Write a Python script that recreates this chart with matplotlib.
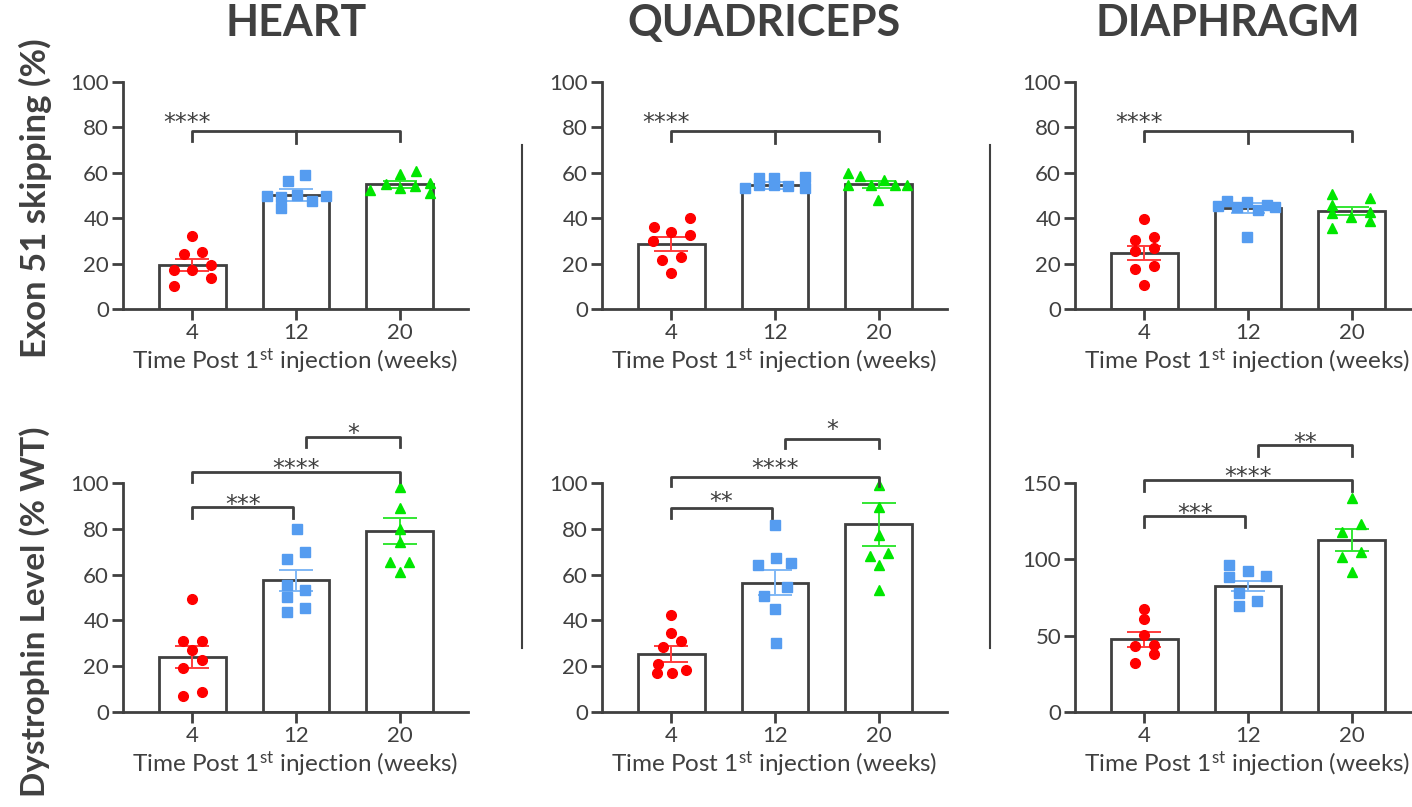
import matplotlib.pyplot as plt
import numpy as np

plt.rcParams['font.family'] = ['Lato', 'DejaVu Sans']
plt.rcParams['mathtext.fontset'] = 'custom'
plt.rcParams['mathtext.rm'] = 'Lato'
plt.rcParams['mathtext.it'] = 'Lato:italic'
plt.rcParams['mathtext.bf'] = 'Lato:bold'

text_color = '#404040'
line_color = '#404040'

weeks = ['4', '12', '20']
tissues = ['HEART', 'QUADRICEPS', 'DIAPHRAGM']
xlabel = r'Time Post 1$^{\mathrm{st}}$ injection (weeks)'

# Exon 51 skipping (%) - individual animals, bar means and SEM
exon_heart_4 = [32.0, 24.3, 25.1, 19.6, 17.4, 17.4, 13.6, 10.0]
exon_heart_12 = [59.2, 56.6, 50.0, 49.3, 50.3, 49.7, 47.7, 44.7]
exon_heart_20 = [59.4, 60.7, 55.0, 55.7, 52.3, 53.5, 54.1, 50.9]
exon_heart_mean = [19.4, 50.1, 55.0]
exon_heart_sem = [2.6, 2.6, 1.5]

exon_quad_4 = [40.0, 36.2, 33.9, 32.7, 30.1, 21.8, 23.0, 16.0]
exon_quad_12 = [53.5, 57.5, 54.5, 57.5, 54.5, 54.3, 58.2, 53.1]
exon_quad_20 = [59.7, 58.5, 54.5, 54.8, 56.7, 54.5, 54.8, 48.2]
exon_quad_mean = [28.7, 54.5, 55.0]
exon_quad_sem = [3.0, 1.6, 1.5]

exon_diaph_4 = [39.6, 30.6, 31.5, 25.7, 26.7, 17.6, 18.9, 10.6]
exon_diaph_12 = [47.7, 45.3, 47.2, 45.0, 43.8, 45.7, 45.0, 31.8]
exon_diaph_20 = [50.6, 49.0, 46.0, 42.1, 40.6, 42.8, 38.9, 35.9]
exon_diaph_mean = [24.6, 44.3, 43.3]
exon_diaph_sem = [3.2, 2.2, 1.7]

# Dystrophin level (% WT)
dys_heart_4 = [49.5, 31.2, 31.2, 27.0, 22.8, 19.1, 8.8, 6.9]
dys_heart_12 = [79.7, 66.9, 69.9, 55.3, 53.3, 50.4, 43.8, 45.4]
dys_heart_20 = [98.2, 89.3, 80.1, 74.2, 65.3, 65.7, 61.0]
dys_heart_mean = [23.9, 57.5, 79.0]
dys_heart_sem = [4.9, 4.7, 5.8]

dys_quad_4 = [42.2, 34.7, 30.8, 28.3, 20.9, 17.2, 17.2, 18.4]
dys_quad_12 = [81.5, 67.3, 64.4, 65.1, 54.6, 50.8, 45.0, 30.1]
dys_quad_20 = [99.3, 89.5, 77.5, 68.3, 69.6, 64.1, 53.3]
dys_quad_mean = [25.4, 56.4, 81.9]
dys_quad_sem = [3.4, 5.5, 9.2]

dys_diaph_4 = [67.7, 61.1, 50.6, 43.1, 44.2, 37.9, 32.2]
dys_diaph_12 = [96.1, 88.7, 92.4, 89.3, 77.7, 72.9, 69.6]
dys_diaph_20 = [139.9, 123.1, 117.6, 105.1, 101.8, 91.5]
dys_diaph_mean = [47.5, 82.5, 112.5]
dys_diaph_sem = [4.8, 3.5, 7.2]

# horizontal scatter of the dots (layout only, in 1/310 of a category step)
jit_exon_heart = [[0, -26, 29, 55, -54, 0, 55, -54],
                  [27, -24, -87, -45, 4, 90, 49, -45],
                  [0, 48, -42, 90, -89, 0, 46, 90]]
jit_exon_quad = [[56, -52, 0, 56, -55, -27, 28, 0],
                 [-89, -48, -48, -3, -3, 40, 90, 90],
                 [-92, -57, -92, -22, 16, 50, 86, -2]]
jit_exon_diaph = [[0, -27, 28, -27, 28, -27, 28, 0],
                  [-62, -90, -2, -33, 30, 57, 82, -2],
                  [-58, 54, -58, -58, -2, 54, 54, -58]]
jit_dys_heart = [[0, -28, 29, 0, 29, -28, 29, -28],
                 [3, -27, 27, -27, 27, -27, -27, 27],
                 [0, 0, 0, 0, -28, 27, 0]]
jit_dys_quad = [[0, 0, 30, -24, -41, -42, 2, 45],
                [0, 3, -51, 47, 35, -33, 0, 3],
                [0, 0, 0, -27, 29, 0, 0]]
jit_dys_diaph = [[0, 0, 0, -28, 28, 28, -28],
                 [-57, -57, -1, 54, -27, 26, -27],
                 [0, 29, -28, 29, -28, 0]]

# significance brackets: (from, to, line y, drop, stars, star y)
sig_exon = [(0, 2, 78.4, 4.5, '****', 85.0)]
sig_dys_heart = [(0, 0.97, 89.5, 5.0, '***', 93.4),
                 (0, 2, 104.8, 4.5, '****', 109.0),
                 (1.1, 2, 120.1, 4.5, '*', 124.5)]
sig_dys_quad = [(0, 0.97, 89.1, 4.6, '**', 94.9),
                (0, 2, 102.6, 3.8, '****', 109.0),
                (1.1, 2, 119.4, 4.1, '*', 126.0)]
sig_dys_diaph = [(0, 0.97, 128.5, 7.4, '***', 134.4),
                 (0, 2, 151.7, 7.2, '****', 158.3),
                 (1.1, 2, 175.2, 7.3, '**', 180.6)]

dot_colors = ['#ff0000', '#559cf0', '#00e600']
err_colors = ['#ff3b3b', '#80b8f5', '#33e633']
markers = ['o', 's', '^']


def draw_panel(ax, groups, jitter, means, sems, sig, ymax, ystep, top_row):
    x = np.arange(3)
    ax.bar(x, means, width=0.64, color='white', edgecolor=line_color,
           linewidth=2.0, zorder=1)
    for i in range(3):
        ax.errorbar(x[i], means[i], yerr=sems[i], color=err_colors[i],
                    capsize=12, elinewidth=1.4, capthick=1.4, zorder=2)
        xs = x[i] + np.array(jitter[i]) / 310.0
        ax.plot(xs, groups[i], linestyle='none', marker=markers[i],
                color=dot_colors[i], markersize=7 if i != 1 else 6.5,
                zorder=3, clip_on=False)
    for a, b, yl, drop, stars, ys in sig:
        ax.plot([a, a, b, b], [yl - drop, yl, yl, yl - drop], color=line_color,
                lw=2.0, clip_on=False, zorder=4)
        if top_row:
            ax.plot([1, 1], [yl, yl - drop - 0.7], color=line_color, lw=2.0,
                    clip_on=False, zorder=4)
            sx = -0.05
        else:
            sx = (a + b) / 2
        # asterisk glyph sits high in the line, so anchor on baseline and shift down
        ax.annotate(stars, (sx, ys), xytext=(0, -10), textcoords='offset points',
                    ha='center', va='baseline', fontsize=17, family='DejaVu Sans',
                    color=text_color, annotation_clip=False)
    ax.set_xlim(-0.67, 2.66)
    ax.set_ylim(0, ymax)
    ax.set_yticks(np.arange(0, ymax + 1, ystep))
    ax.set_xticks(x)
    ax.set_xticklabels(weeks)
    for s in ['top', 'right']:
        ax.spines[s].set_visible(False)
    for s in ['left', 'bottom']:
        ax.spines[s].set_linewidth(2.0)
        ax.spines[s].set_color(line_color)
    ax.tick_params(axis='both', direction='out', length=8, width=2.0,
                   color=line_color, labelcolor=text_color, labelsize=16, pad=2)
    ax.set_xlabel(xlabel, fontsize=17.5, color=text_color, labelpad=3)


fig = plt.figure(figsize=(14.12, 8.07), dpi=100)

lefts = [123 / 1412, 602 / 1412, 1075 / 1412]
width = 345 / 1412
top_bottom, top_height = 1 - 309 / 807, 227 / 807
bot_bottom, bot_height = 1 - 712 / 807, 229 / 807

exon_groups = [[exon_heart_4, exon_heart_12, exon_heart_20],
               [exon_quad_4, exon_quad_12, exon_quad_20],
               [exon_diaph_4, exon_diaph_12, exon_diaph_20]]
exon_means = [exon_heart_mean, exon_quad_mean, exon_diaph_mean]
exon_sems = [exon_heart_sem, exon_quad_sem, exon_diaph_sem]
exon_jit = [jit_exon_heart, jit_exon_quad, jit_exon_diaph]

dys_groups = [[dys_heart_4, dys_heart_12, dys_heart_20],
              [dys_quad_4, dys_quad_12, dys_quad_20],
              [dys_diaph_4, dys_diaph_12, dys_diaph_20]]
dys_means = [dys_heart_mean, dys_quad_mean, dys_diaph_mean]
dys_sems = [dys_heart_sem, dys_quad_sem, dys_diaph_sem]
dys_jit = [jit_dys_heart, jit_dys_quad, jit_dys_diaph]
dys_sig = [sig_dys_heart, sig_dys_quad, sig_dys_diaph]
dys_ymax = [100, 100, 150]
dys_step = [20, 20, 50]

for c in range(3):
    ax = fig.add_axes([lefts[c], top_bottom, width, top_height])
    draw_panel(ax, exon_groups[c], exon_jit[c], exon_means[c], exon_sems[c],
               sig_exon, 100, 20, True)
    ax = fig.add_axes([lefts[c], bot_bottom, width, bot_height])
    draw_panel(ax, dys_groups[c], dys_jit[c], dys_means[c], dys_sems[c],
               dys_sig[c], dys_ymax[c], dys_step[c], False)

# column titles
for xc, name in zip([296, 764, 1228], tissues):
    fig.text(xc / 1412, 1 - 23 / 807, name, ha='center', va='center',
             fontsize=31, fontweight='bold', color=text_color)

# row labels
fig.text(35 / 1412, 1 - 198 / 807, 'Exon 51 skipping (%)', rotation=90,
         ha='center', va='center', fontsize=25, fontweight='bold', color=text_color)
fig.text(35 / 1412, 1 - 612 / 807, 'Dystrophin Level (% WT)', rotation=90,
         ha='center', va='center', fontsize=24, fontweight='bold', color=text_color)

# separators between tissues
for xs in [522, 990]:
    fig.add_artist(plt.Line2D([xs / 1412, xs / 1412], [1 - 145 / 807, 1 - 648 / 807],
                              color=line_color, lw=1.5))

fig.savefig('out.png', dpi=100)
